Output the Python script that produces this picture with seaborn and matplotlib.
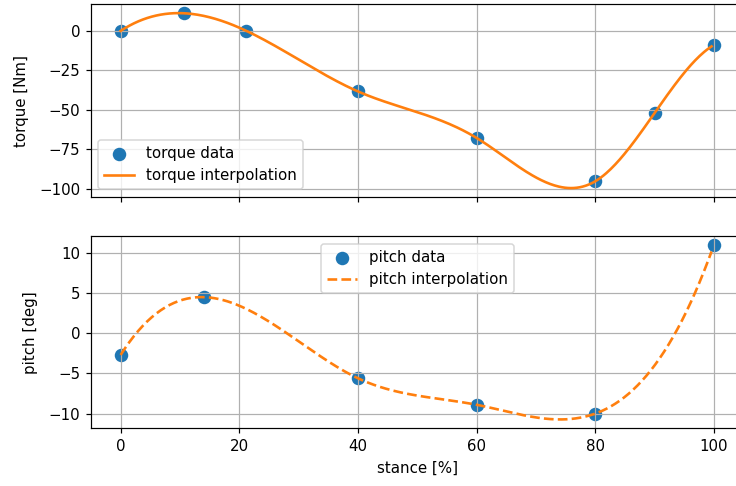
import numpy as np
import pandas as pd
import matplotlib
matplotlib.use("Agg")
import matplotlib.pyplot as plt
import seaborn as sns

# ---- data ----
torque_stance = [0, 10.6, 21.2, 40, 60, 80, 90, 100]
torque_values = [0, 11.2, 0, -38.4, -67.9, -95.4, -52.1, -8.9]
pitch_stance = [0, 14, 40, 60, 80, 100]
pitch_values = [-2.7, 4.5, -5.6, -8.9, -10.0, 11.0]


def not_a_knot_spline(x, y, xs):
    x = np.asarray(x, float)
    y = np.asarray(y, float)
    n = len(x)
    h = np.diff(x)
    A = np.zeros((n, n))
    b = np.zeros(n)
    A[0, 0], A[0, 1], A[0, 2] = h[1], -(h[0] + h[1]), h[0]
    A[-1, -3], A[-1, -2], A[-1, -1] = h[-1], -(h[-2] + h[-1]), h[-2]
    for i in range(1, n - 1):
        A[i, i - 1] = h[i - 1]
        A[i, i] = 2 * (h[i - 1] + h[i])
        A[i, i + 1] = h[i]
        b[i] = 6 * ((y[i + 1] - y[i]) / h[i] - (y[i] - y[i - 1]) / h[i - 1])
    M = np.linalg.solve(A, b)
    xs = np.asarray(xs, float)
    idx = np.clip(np.searchsorted(x, xs) - 1, 0, n - 2)
    x0, x1 = x[idx], x[idx + 1]
    hh = x1 - x0
    return (M[idx] * (x1 - xs) ** 3 / (6 * hh)
            + M[idx + 1] * (xs - x0) ** 3 / (6 * hh)
            + (y[idx] / hh - M[idx] * hh / 6) * (x1 - xs)
            + (y[idx + 1] / hh - M[idx + 1] * hh / 6) * (xs - x0))


grid = np.linspace(0, 99.6, 400)
torque_df = pd.DataFrame({"stance": torque_stance, "torque": torque_values})
pitch_df = pd.DataFrame({"stance": pitch_stance, "pitch": pitch_values})
torque_fit = pd.DataFrame({"stance": grid,
                           "torque": not_a_knot_spline(torque_stance, torque_values, grid)})
pitch_fit = pd.DataFrame({"stance": grid,
                          "pitch": not_a_knot_spline(pitch_stance, pitch_values, grid)})

DPI = 108
fig = plt.figure(figsize=(736 / DPI, 486 / DPI), dpi=DPI)
ax1 = fig.add_axes([0.1236, 0.595, 0.8867, 0.396])
ax2 = fig.add_axes([0.1236, 0.119, 0.8867, 0.395], sharex=ax1)

sns.scatterplot(data=torque_df, x="stance", y="torque", ax=ax1, color="C0",
                s=81, linewidth=0, label="torque data")
sns.lineplot(data=torque_fit, x="stance", y="torque", ax=ax1, color="C1",
             linewidth=1.75, label="torque interpolation")
ax1.set_ylabel("torque [Nm]", labelpad=7)
ax1.set_xlabel("")
ax1.grid(True)
ax1.tick_params(labelbottom=False)
ax1.legend(loc="lower left")

sns.scatterplot(data=pitch_df, x="stance", y="pitch", ax=ax2, color="C0",
                s=81, linewidth=0, label="pitch data")
sns.lineplot(data=pitch_fit, x="stance", y="pitch", ax=ax2, color="C1",
             linewidth=1.75, linestyle="--", label="pitch interpolation")
ax2.set_ylabel("pitch [deg]", labelpad=7)
ax2.set_xlabel("stance [%]", labelpad=5)
ax2.grid(True)
ax2.legend(loc="upper center")

fig.savefig("out.png", dpi=DPI)
